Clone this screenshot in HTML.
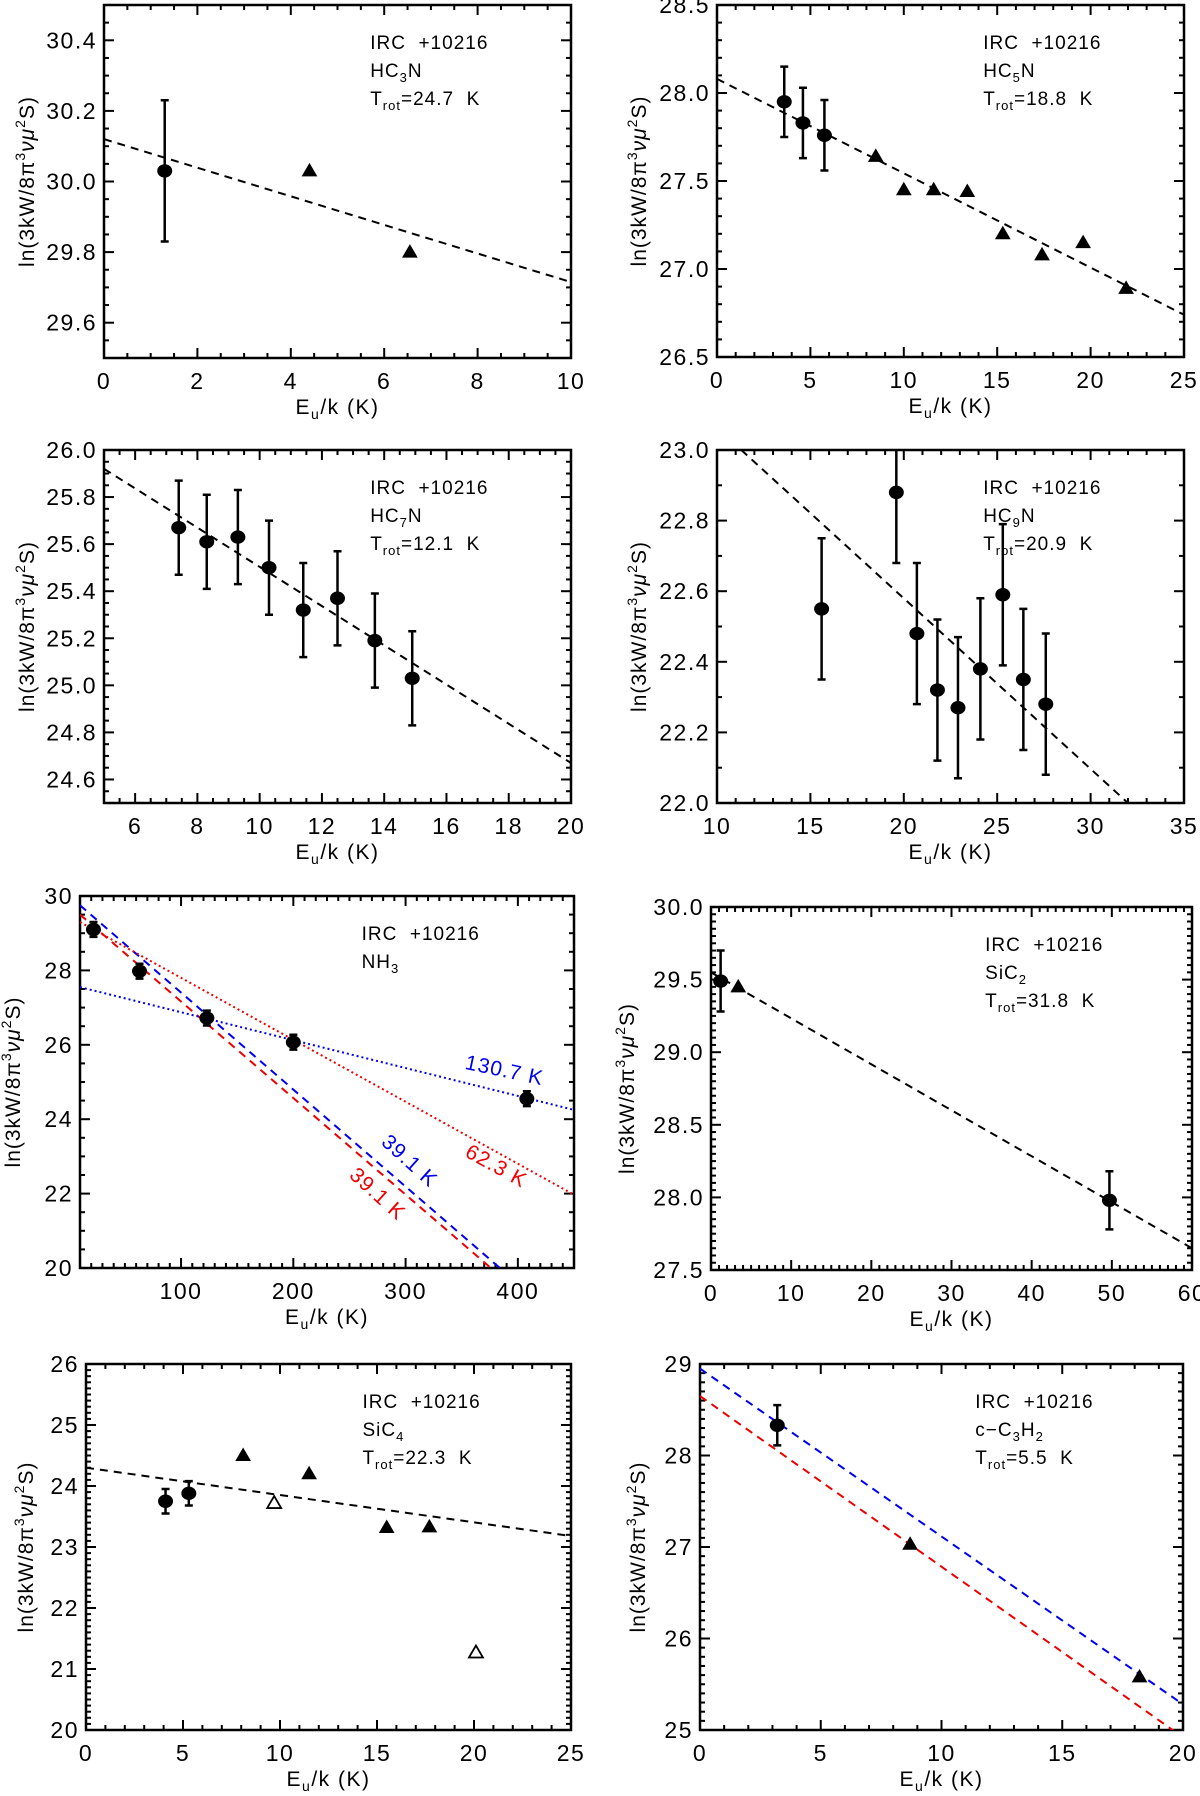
<!DOCTYPE html>
<html><head><meta charset="utf-8"><style>
html,body{margin:0;padding:0;background:#fff}
svg{display:block;font-family:"Liberation Sans",sans-serif}
</style></head><body>
<svg id="fig" width="1200" height="1796" viewBox="0 0 1200 1796" xmlns="http://www.w3.org/2000/svg"></svg>
<script>
// ---- data ----
const hc3nCircX=[1.3], hc3nCircY=[30.03], hc3nCircErr=[0.2];
const hc3nTriX=[4.4,6.55], hc3nTriY=[30.03,29.80];
const hc3nFitX=[0,10], hc3nFitY=[30.12,29.715];

const hc5nCircX=[3.6,4.6,5.75], hc5nCircY=[27.95,27.83,27.76], hc5nCircErr=[0.2,0.2,0.2];
const hc5nTriX=[8.5,10,11.6,13.4,15.3,17.4,19.6,21.9], hc5nTriY=[27.64,27.45,27.45,27.44,27.2,27.08,27.15,26.89];
const hc5nFitX=[0,25], hc5nFitY=[28.08,26.74];

const hc7nCircX=[7.4,8.3,9.3,10.3,11.4,12.5,13.7,14.9];
const hc7nCircY=[25.67,25.61,25.63,25.50,25.32,25.37,25.19,25.03];
const hc7nCircErr=[0.2,0.2,0.2,0.2,0.2,0.2,0.2,0.2];
const hc7nFitX=[5,20], hc7nFitY=[25.92,24.67];

const hc9nCircX=[15.6,19.6,20.7,21.8,22.9,24.1,25.3,26.4,27.6];
const hc9nCircY=[22.55,22.88,22.48,22.32,22.27,22.38,22.59,22.35,22.28];
const hc9nCircErr=[0.2,0.2,0.2,0.2,0.2,0.2,0.2,0.2,0.2];
const hc9nFitX=[11.3,32], hc9nFitY=[23.0,22.0];

const nh3CircX=[22,63,123,200,408], nh3CircY=[29.1,27.98,26.72,26.07,24.55], nh3CircErr=[0.2,0.2,0.2,0.2,0.2];
const nh3BlueDashX=[10,384], nh3BlueDashY=[29.75,20];
const nh3RedDashX=[10,376], nh3RedDashY=[29.5,20];
const nh3RedDotX=[10,450], nh3RedDotY=[29.3,21.97];
const nh3BlueDotX=[10,450], nh3BlueDotY=[27.55,24.25];

const sic2CircX=[1.2,49.7], sic2CircY=[29.49,27.98], sic2CircErr=[0.21,0.2];
const sic2TriX=[3.4], sic2TriY=[29.45];
const sic2FitX=[0,60], sic2FitY=[29.55,27.65];

const sic4CircX=[4.1,5.3], sic4CircY=[23.75,23.88], sic4CircErr=[0.2,0.2];
const sic4TriX=[8.1,11.5,15.5,17.7], sic4TriY=[24.5,24.2,23.32,23.33];
const sic4OpenX=[9.7,20.1], sic4OpenY=[23.72,21.27];
const sic4FitX=[0,25], sic4FitY=[24.3,23.18];

const c3h2CircX=[3.2], c3h2CircY=[28.33], c3h2CircErr=[0.22];
const c3h2TriX=[8.7,18.2], c3h2TriY=[27.03,25.58];
const c3h2BlueX=[0,20], c3h2BlueY=[28.95,25.28];
const c3h2RedX=[0,20], c3h2RedY=[28.65,24.92];

// ---- drawing ----
const NS="http://www.w3.org/2000/svg";
const fig=document.getElementById('fig');
function mk(tag,attrs,parent){const e=document.createElementNS(NS,tag);for(const k in attrs)e.setAttribute(k,attrs[k]);(parent||fig).appendChild(e);return e;}
let clipId=0;
function panel(p){
  const g=mk('g',{});
  
  
  const sx=v=>p.L+(v-p.x0)/(p.x1-p.x0)*(p.R-p.L);
  const sy=v=>p.B-(v-p.y0)/(p.y1-p.y0)*(p.B-p.T);
  const cid='clip'+(clipId++);
  const cp=mk('clipPath',{id:cid},g);mk('rect',{x:p.L,y:p.T,width:p.R-p.L,height:p.B-p.T},cp);
  const ticks=mk('g',{stroke:'#000','stroke-width':2},g);
  
  
  const xm=p.xs/p.xn;
  for(let v=Math.ceil((p.x0-1e-9)/xm)*xm; v<=p.x1+1e-9; v+=xm){
    const isMaj=Math.abs(v/p.xs-Math.round(v/p.xs))<1e-6, len=isMaj?10:5, x=sx(v);
    mk('line',{x1:x,y1:p.B,x2:x,y2:p.B-len},ticks);mk('line',{x1:x,y1:p.T,x2:x,y2:p.T+len},ticks);
    if(isMaj && x>p.L-1 && x<p.R+1){const t=mk('text',{x:x,y:p.B+31,'font-size':23,'letter-spacing':1.5,'text-anchor':'middle'},g);t.textContent=(+v.toFixed(6)).toFixed(p.xd);
      
      }
  }
  const ym=p.ys/p.yn;
  for(let v=Math.ceil((p.y0-1e-9)/ym)*ym; v<=p.y1+1e-9; v+=ym){
    const isMaj=Math.abs(v/p.ys-Math.round(v/p.ys))<1e-6, len=isMaj?10:5, y=sy(v);
    mk('line',{x1:p.L,y1:y,x2:p.L+len,y2:y},ticks);mk('line',{x1:p.R,y1:y,x2:p.R-len,y2:y},ticks);
    if(isMaj){const t=mk('text',{x:p.L-7,y:y+8,'font-size':23,'letter-spacing':1.5,'text-anchor':'end'},g);t.textContent=(+v.toFixed(6)).toFixed(p.yd);
      
      }
  }
  const fr=mk('rect',{x:p.L,y:p.T,width:p.R-p.L,height:p.B-p.T,fill:'none',stroke:'#000','stroke-width':2.5},g);
  
  
  const xt=mk('text',{x:(p.L+p.R)/2,y:p.B+56,'font-size':21,'letter-spacing':1.5,'text-anchor':'middle'},g);
  xt.innerHTML='E<tspan font-size="14" dy="5">u</tspan><tspan dy="-5">/k (K)</tspan>';
  
  
  const yc=(p.T+p.B)/2;
  const yt=mk('text',{x:0,y:0,'font-size':21,'letter-spacing':1,'text-anchor':'middle',transform:`translate(${p.yx},${yc}) rotate(-90)`},g);
  yt.innerHTML='ln(3kW/8π<tspan font-size="14" dy="-9">3</tspan><tspan dy="9" font-style="italic">νμ</tspan><tspan font-size="14" dy="-9">2</tspan><tspan dy="9">S)</tspan>';
  
  
  const ax=p.L+0.57*(p.R-p.L), ay=p.T+44;
  p.ann.forEach((h,i)=>{const t=mk('text',{x:ax,y:ay+i*28,'font-size':19,'letter-spacing':1},g);t.innerHTML=h;
    
    });
  const plot=mk('g',{'clip-path':`url(#${cid})`},g);
  return {g,plot,sx,sy};
}
function line(P,xs,ys,color,dash,name){
  const l=mk('line',{x1:P.sx(xs[0]),y1:P.sy(ys[0]),x2:P.sx(xs[1]),y2:P.sy(ys[1]),stroke:color,'stroke-width':2,'stroke-dasharray':dash},P.plot);
  
  
}
function circles(P,xs,ys,es){
  xs.forEach((x,i)=>{const cx=P.sx(x),cy=P.sy(ys[i]);
    if(es){const y1=P.sy(ys[i]+es[i]),y2=P.sy(ys[i]-es[i]);
      const eb=mk('path',{d:`M${cx},${y1}V${y2}M${cx-4},${y1}H${cx+4}M${cx-4},${y2}H${cx+4}`,stroke:'#000','stroke-width':2.5,fill:'none'},P.plot);
      
      }
    const c=mk('ellipse',{cx,cy,rx:7.5,ry:6.7,fill:'#000'},P.plot);
    
    });
}
function tris(P,xs,ys,open){
  xs.forEach((x,i)=>{const cx=P.sx(x),cy=P.sy(ys[i]);
    const t=mk('path',{d:`M${cx},${cy-7}L${cx+7},${cy+5}L${cx-7},${cy+5}Z`,fill:open?'#fff':'#000',stroke:'#000','stroke-width':open?1.8:1},P.plot);
    
    });
}
const DASH='8,6';
let P=panel({name:'hc3n',L:104,R:571,T:5,B:358,x0:0,x1:10,xs:2,xn:4,xd:0,y0:29.5,y1:30.5,ys:0.2,yn:4,yd:1,yx:34,
  ann:['IRC&#160;&#160;+10216','HC<tspan font-size="13" dy="5">3</tspan><tspan dy="-5">N</tspan>','T<tspan font-size="13" dy="5">rot</tspan><tspan dy="-5">=24.7&#160;&#160;K</tspan>']});
line(P,hc3nFitX,hc3nFitY,'#000',DASH,'fit-line');circles(P,hc3nCircX,hc3nCircY,hc3nCircErr);tris(P,hc3nTriX,hc3nTriY);
P=panel({name:'hc5n',L:717,R:1184,T:5,B:357,x0:0,x1:25,xs:5,xn:5,xd:0,y0:26.5,y1:28.5,ys:0.5,yn:5,yd:1,yx:646,
  ann:['IRC&#160;&#160;+10216','HC<tspan font-size="13" dy="5">5</tspan><tspan dy="-5">N</tspan>','T<tspan font-size="13" dy="5">rot</tspan><tspan dy="-5">=18.8&#160;&#160;K</tspan>']});
line(P,hc5nFitX,hc5nFitY,'#000',DASH,'fit-line');circles(P,hc5nCircX,hc5nCircY,hc5nCircErr);tris(P,hc5nTriX,hc5nTriY);
P=panel({name:'hc7n',L:104,R:571,T:450,B:803,x0:5,x1:20,xs:2,xn:4,xd:0,y0:24.5,y1:26.0,ys:0.2,yn:4,yd:1,yx:34,
  ann:['IRC&#160;&#160;+10216','HC<tspan font-size="13" dy="5">7</tspan><tspan dy="-5">N</tspan>','T<tspan font-size="13" dy="5">rot</tspan><tspan dy="-5">=12.1&#160;&#160;K</tspan>']});
line(P,hc7nFitX,hc7nFitY,'#000',DASH,'fit-line');circles(P,hc7nCircX,hc7nCircY,hc7nCircErr);
P=panel({name:'hc9n',L:717,R:1184,T:450,B:803,x0:10,x1:35,xs:5,xn:5,xd:0,y0:22.0,y1:23.0,ys:0.2,yn:2,yd:1,yx:646,
  ann:['IRC&#160;&#160;+10216','HC<tspan font-size="13" dy="5">9</tspan><tspan dy="-5">N</tspan>','T<tspan font-size="13" dy="5">rot</tspan><tspan dy="-5">=20.9&#160;&#160;K</tspan>']});
line(P,hc9nFitX,hc9nFitY,'#000',DASH,'fit-line');circles(P,hc9nCircX,hc9nCircY,hc9nCircErr);
P=panel({name:'nh3',L:80,R:574,T:896,B:1268,x0:10,x1:450,xs:100,xn:10,xd:0,y0:20,y1:30,ys:2,yn:4,yd:0,yx:20,
  ann:['IRC&#160;&#160;+10216','NH<tspan font-size="13" dy="5">3</tspan>']});
line(P,nh3BlueDashX,nh3BlueDashY,'#0000ee','8,6','fit-blue-dashed');
line(P,nh3RedDashX,nh3RedDashY,'#ee0000','8,6','fit-red-dashed');
line(P,nh3RedDotX,nh3RedDotY,'#ee0000','2,3','fit-red-dotted');
line(P,nh3BlueDotX,nh3BlueDotY,'#0000ee','2,3','fit-blue-dotted');
circles(P,nh3CircX,nh3CircY,nh3CircErr);
[['130.7 K','#0000ee',503,1077,12],['62.3 K','#ee0000',493,1172,29],['39.1 K','#0000ee',405,1166,42],['39.1 K','#ee0000',373,1199,42]].forEach(a=>{
  const t=mk('text',{x:0,y:0,'font-size':21,'letter-spacing':1,fill:a[1],'text-anchor':'middle',transform:`translate(${a[2]},${a[3]}) rotate(${a[4]})`},P.g);t.textContent=a[0];
  
  });
P=panel({name:'sic2',L:711,R:1192,T:907,B:1270,x0:0,x1:60,xs:10,xn:10,xd:0,y0:27.5,y1:30.0,ys:0.5,yn:10,yd:1,yx:634,
  ann:['IRC&#160;&#160;+10216','SiC<tspan font-size="13" dy="5">2</tspan>','T<tspan font-size="13" dy="5">rot</tspan><tspan dy="-5">=31.8&#160;&#160;K</tspan>']});
line(P,sic2FitX,sic2FitY,'#000',DASH,'fit-line');circles(P,sic2CircX,sic2CircY,sic2CircErr);tris(P,sic2TriX,sic2TriY);
P=panel({name:'sic4',L:86,R:571,T:1364,B:1730,x0:0,x1:25,xs:5,xn:5,xd:0,y0:20,y1:26,ys:1,yn:10,yd:0,yx:33,
  ann:['IRC&#160;&#160;+10216','SiC<tspan font-size="13" dy="5">4</tspan>','T<tspan font-size="13" dy="5">rot</tspan><tspan dy="-5">=22.3&#160;&#160;K</tspan>']});
line(P,sic4FitX,sic4FitY,'#000',DASH,'fit-line');circles(P,sic4CircX,sic4CircY,sic4CircErr);tris(P,sic4TriX,sic4TriY);tris(P,sic4OpenX,sic4OpenY,true);
P=panel({name:'c3h2',L:700,R:1183,T:1364,B:1730,x0:0,x1:20,xs:5,xn:5,xd:0,y0:25,y1:29,ys:1,yn:10,yd:0,yx:645,
  ann:['IRC&#160;&#160;+10216','c−C<tspan font-size="13" dy="5">3</tspan><tspan dy="-5">H</tspan><tspan font-size="13" dy="5">2</tspan>','T<tspan font-size="13" dy="5">rot</tspan><tspan dy="-5">=5.5&#160;&#160;K</tspan>']});
line(P,c3h2BlueX,c3h2BlueY,'#0000ee',DASH,'fit-blue-dashed');line(P,c3h2RedX,c3h2RedY,'#ee0000',DASH,'fit-red-dashed');
circles(P,c3h2CircX,c3h2CircY,c3h2CircErr);tris(P,c3h2TriX,c3h2TriY);
</script>
</body></html>
